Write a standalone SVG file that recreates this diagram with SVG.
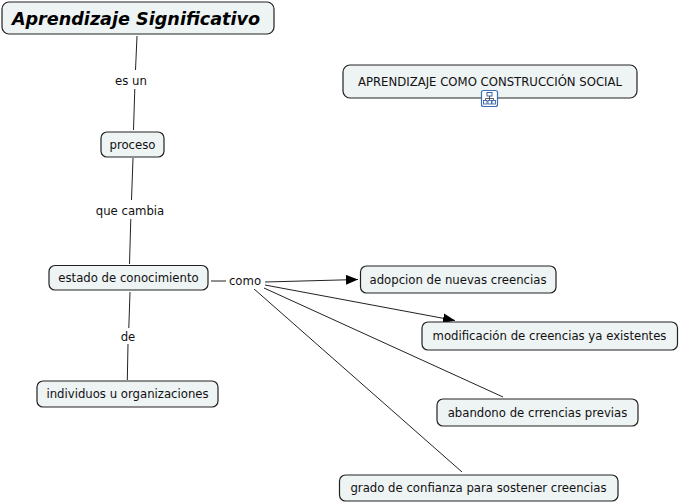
<svg xmlns="http://www.w3.org/2000/svg" width="679" height="504" viewBox="0 0 679 504">
<defs>
<style>
.node rect{fill:#eef3f4;stroke:#222;stroke-width:1.2}
.node text,.lbl{font-family:"DejaVu Sans",Verdana,sans-serif;font-size:11.7px;fill:#111;text-anchor:middle}
.node text.title{font-size:17.6px;font-weight:bold;font-style:italic;fill:#000}
.conn line{stroke:#222;stroke-width:1}
</style>
<marker id="arr" viewBox="0 0 12 10" refX="12" refY="5" markerWidth="12" markerHeight="10" markerUnits="userSpaceOnUse" orient="auto">
<path d="M0,0 L12,5 L0,10 Z" fill="#000"/>
</marker>
</defs>
<rect width="679" height="504" fill="#fff"/>
<g id="connectors" class="conn">
<line x1="137" y1="36" x2="135.5" y2="70"/>
<line x1="134.8" y1="89" x2="133.5" y2="130"/>
<line x1="133" y1="158" x2="131.5" y2="200"/>
<line x1="130.8" y1="219" x2="129.5" y2="264"/>
<line x1="130" y1="292" x2="128.8" y2="328"/>
<line x1="128" y1="344" x2="127.3" y2="380"/>
<line x1="211" y1="281" x2="226" y2="281"/>
<line x1="265" y1="282" x2="358" y2="279.5" marker-end="url(#arr)"/>
<line x1="265" y1="285" x2="455" y2="320.5" marker-end="url(#arr)"/>
<line x1="264" y1="288" x2="503" y2="397"/>
<line x1="253" y1="288" x2="462" y2="472"/>
</g>
<g id="lbl-esun"><rect x="112" y="72" width="38" height="16" fill="#fff"/><text class="lbl" x="131" y="84.5">es un</text></g>
<g id="lbl-quecambia"><rect x="93" y="202" width="74" height="16" fill="#fff"/><text class="lbl" x="130" y="214.5">que cambia</text></g>
<g id="lbl-de"><rect x="119" y="329" width="18" height="15" fill="#fff"/><text class="lbl" x="128" y="340.5">de</text></g>
<g id="lbl-como"><rect x="227" y="273" width="36" height="16" fill="#fff"/><text class="lbl" x="245" y="285">como</text></g>
<g id="n-aprendizaje" class="node">
<rect x="2" y="2" width="272" height="32" rx="7"/>
<text class="title" x="136" y="24.5">Aprendizaje Significativo</text>
</g>
<g id="n-proceso" class="node">
<rect x="101" y="132" width="63" height="25" rx="6"/>
<text x="132.5" y="148.5">proceso</text>
</g>
<g id="n-estado" class="node">
<rect x="49" y="265.5" width="159" height="24.5" rx="6"/>
<text x="128.5" y="282">estado de conocimiento</text>
</g>
<g id="n-individuos" class="node">
<rect x="37" y="381" width="181" height="26" rx="6"/>
<text x="127.5" y="398">individuos u organizaciones</text>
</g>
<g id="n-social" class="node">
<rect x="343" y="65" width="294" height="33" rx="7"/>
<text x="490" y="86">APRENDIZAJE COMO CONSTRUCCIÓN SOCIAL</text>
</g>
<g id="icon-social">
<rect x="481.5" y="90.5" width="16" height="16" rx="2" fill="#fff" stroke="#3a6fb8" stroke-width="1.2"/>
<rect x="487" y="92.5" width="5" height="3.5" fill="#fff" stroke="#2a55a0" stroke-width="0.9"/>
<path d="M489.5,96 V98.5 M485.5,98.5 H493.5 M485.5,98.5 V100 M493.5,98.5 V100 M489.5,98.5 V100" stroke="#333" stroke-width="0.8" fill="none"/>
<rect x="483.5" y="100.5" width="3.5" height="3.5" fill="#fff" stroke="#2a55a0" stroke-width="0.8"/>
<rect x="488" y="100.5" width="3.5" height="3.5" fill="#fff" stroke="#2a55a0" stroke-width="0.8"/>
<rect x="492" y="100.5" width="3.5" height="3.5" fill="#fff" stroke="#2a55a0" stroke-width="0.8"/>
</g>
<g id="n-adopcion" class="node">
<rect x="360.5" y="266" width="195.5" height="27" rx="6"/>
<text x="458" y="283.5">adopcion de nuevas creencias</text>
</g>
<g id="n-modificacion" class="node">
<rect x="422" y="322" width="255.5" height="28" rx="6"/>
<text x="549.5" y="340">modificación de creencias ya existentes</text>
</g>
<g id="n-abandono" class="node">
<rect x="437" y="399" width="201" height="27" rx="6"/>
<text x="537.5" y="416.5">abandono de crrencias previas</text>
</g>
<g id="n-grado" class="node">
<rect x="339.5" y="475" width="278.5" height="26" rx="6"/>
<text x="478.5" y="492">grado de confianza para sostener creencias</text>
</g>
</svg>
